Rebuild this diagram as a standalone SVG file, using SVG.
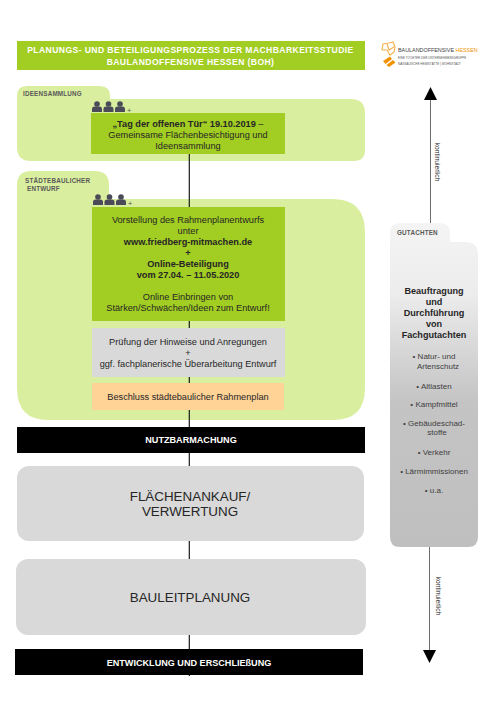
<svg xmlns="http://www.w3.org/2000/svg" width="500" height="708" viewBox="0 0 500 708">
<style>
text{font-family:"Liberation Sans",Arial,sans-serif;text-anchor:middle;fill:#262626}
.b{font-weight:700}
.t{font-size:9.2px}
.tag{font-size:6.3px;font-weight:700;fill:#595959;text-anchor:start;letter-spacing:.2px}
.bar{font-size:9.100px;font-weight:700;fill:#fff}
.big{font-size:13.400px}
.side{font-size:8px;fill:#404040}
.head{font-size:9.100px;font-weight:700}
.rot{font-size:6.600px;fill:#262626}
.hdr{font-size:8.6px;font-weight:700;fill:#fff;letter-spacing:.4px}
.plus{font-size:8px;fill:#595959}
.g{fill:#a2cd22}
.lg{fill:#d9ef9f}
.p{fill:#4a4a58}
.big-box{fill:#d9d9d9}
.blk{fill:#000}
.ln{stroke:#1a1a1a;stroke-width:1.200;fill:none}
.ar{stroke:#6e6e6e;stroke-width:1;fill:none}
.o{fill:#f39200}
.lt{font-size:3px;text-anchor:start;fill:#595959}
</style>
<defs>
<linearGradient id="gut" x1="0" y1="0" x2="0" y2="1">
<stop offset="0" stop-color="#f4f4f4"/>
<stop offset=".22" stop-color="#ececec"/>
<stop offset=".55" stop-color="#c4c4c4"/>
<stop offset="1" stop-color="#bfbfbf"/>
</linearGradient>
<g id="people">
<g id="pers"><circle cx="5" cy="3" r="2.8"/><path d="M0 11V8.2Q0 5.6 2.6 5.6H7.4Q10 5.6 10 8.2V11Z"/></g>
<use href="#pers" x="11.5"/>
<use href="#pers" x="23"/>
</g>
</defs>

<g id="panel-ideen"><path class="lg" d="M27 86H100Q110 86 110 96V99H351Q365 99 365 113V150Q365 161 354 161H31Q17 161 17 147V96Q17 86 27 86Z"/></g>
<g id="panel-staedtebau"><path class="lg" d="M31 171H95Q109 171 109 185V199H332Q365 199 365 232V388Q365 420 333 420H48Q17 420 17 388V185Q17 171 31 171Z"/></g>

<g id="connectors">
<path class="ln" d="M189.300 154V676"/>
<path class="ar" d="M430.500 98V225"/>
<path d="M430.500 87L437 100H424Z" fill="#000"/>
<path class="ar" d="M429.500 547V652"/>
<path d="M429.500 663L423 650H436Z" fill="#000"/>
</g>

<g id="title"><rect class="g" x="17" y="41" width="348" height="29"/>
<text class="hdr" x="190.500" y="53">PLANUNGS- UND BETEILIGUNGSPROZESS DER MACHBARKEITSSTUDIE</text>
<text class="hdr" x="190.500" y="65">BAULANDOFFENSIVE HESSEN (BOH)</text></g>

<g id="logo">
<path class="o" d="M383 61L390 56.500L392 59L385.500 64ZM386.500 65L393 60L395.500 62.500L389 67Z"/>
<path fill="none" stroke="#f5b455" stroke-width="1.200" d="M383 44L389 43L393 42L395 47L394 52L390 55L387 50L382 50ZM387 44L389 50L394 47"/>
<text x="398" y="52" style="font-size:5.400px;text-anchor:start;fill:#404040">BAULANDOFFENSIVE <tspan fill="#f39200">HESSEN</tspan></text>
<text class="lt" x="398" y="59">EINE TOCHTER DER UNTERNEHMENSGRUPPE</text>
<text class="lt" x="398" y="64.500">NASSAUISCHE HEIMSTÄTTE | WOHNSTADT</text>
</g>

<g id="node-ideen">
<text class="tag" x="23" y="96">IDEENSAMMLUNG</text>
<use href="#people" class="p" x="92" y="101"/>
<text class="plus" x="129" y="112.500">+</text>
<rect class="g" x="91" y="113" width="194" height="41"/>
<text class="t" x="188" y="127"><tspan class="b">„Tag der offenen Tür“ 19.10.2019</tspan> –</text>
<text class="t" x="188" y="137.500">Gemeinsame Flächenbesichtigung und</text>
<text class="t" x="188" y="149">Ideensammlung</text>
</g>

<g id="node-staedtebau">
<text class="tag" x="25" y="183">STÄDTEBAULICHER</text>
<text class="tag" x="27" y="191">ENTWURF</text>
<use href="#people" class="p" x="93" y="194"/>
<text class="plus" x="130" y="205.500">+</text>
<rect class="g" x="92" y="207" width="193" height="114"/>
<text class="t" x="188" y="223">Vorstellung des Rahmenplanentwurfs</text>
<text class="t" x="188" y="234">unter</text>
<text class="t b" x="188" y="245">www.friedberg-mitmachen.de</text>
<text class="t b" x="188" y="256">+</text>
<text class="t b" x="188" y="267">Online-Beteiligung</text>
<text class="t b" x="188" y="278">vom 27.04. – 11.05.2020</text>
<text class="t" x="188" y="300">Online Einbringen von</text>
<text class="t" x="188" y="311">Stärken/Schwächen/Ideen zum Entwurf!</text>
</g>

<g id="node-pruefung">
<rect x="92" y="328" width="193" height="49" fill="#d9d9d9"/>
<text class="t" x="188" y="345">Prüfung der Hinweise und Anregungen</text>
<text class="t" x="188" y="356">+</text>
<text class="t" x="188" y="367">ggf. fachplanerische Überarbeitung Entwurf</text>
</g>

<g id="node-beschluss">
<rect x="92" y="383" width="192" height="27" fill="#ffd296"/>
<text class="t" x="188" y="400">Beschluss städtebaulicher Rahmenplan</text>
</g>

<g id="node-nutzbar">
<rect class="blk" x="17" y="427" width="348" height="26"/>
<text class="bar" x="191" y="443">NUTZBARMACHUNG</text>
</g>

<g id="node-ankauf">
<rect class="big-box" x="17" y="466" width="347" height="75" rx="12"/>
<text class="big" x="190" y="501">FLÄCHENANKAUF/</text>
<text class="big" x="190" y="516">VERWERTUNG</text>
</g>

<g id="node-bauleit">
<rect class="big-box" x="16" y="559" width="350" height="76" rx="12"/>
<text class="big" x="190" y="602">BAULEITPLANUNG</text>
</g>

<g id="node-entwicklung">
<rect class="blk" x="15" y="649" width="348" height="26"/>
<text class="bar" x="189" y="666">ENTWICKLUNG UND ERSCHLIEßUNG</text>
</g>

<g id="node-gutachten">
<path fill="url(#gut)" d="M400 223H440Q450 223 450 233V242H465Q478 242 478 255V537Q478 547 468 547H400Q390 547 390 537V233Q390 223 400 223Z"/>
<text class="tag" x="397" y="235">GUTACHTEN</text>
<text class="head" x="434" y="294">Beauftragung</text>
<text class="head" x="434" y="305">und</text>
<text class="head" x="434" y="316">Durchführung</text>
<text class="head" x="434" y="327">von</text>
<text class="head" x="434" y="338">Fachgutachten</text>
<text class="side" x="434" y="359">•  Natur- und</text>
<text class="side" x="438" y="369">Artenschutz</text>
<text class="side" x="434" y="389">•  Altlasten</text>
<text class="side" x="434" y="407">•  Kampfmittel</text>
<text class="side" x="434" y="426">•  Gebäudeschad-</text>
<text class="side" x="437" y="435">stoffe</text>
<text class="side" x="434" y="455">•  Verkehr</text>
<text class="side" x="434" y="474">•  Lärmimmissionen</text>
<text class="side" x="434" y="493">•  u.a.</text>
</g>

<text class="rot" transform="translate(435 162) rotate(90)">kontinuierlich</text>
<text class="rot" transform="translate(436 596) rotate(90)">kontinuierlich</text>
</svg>
